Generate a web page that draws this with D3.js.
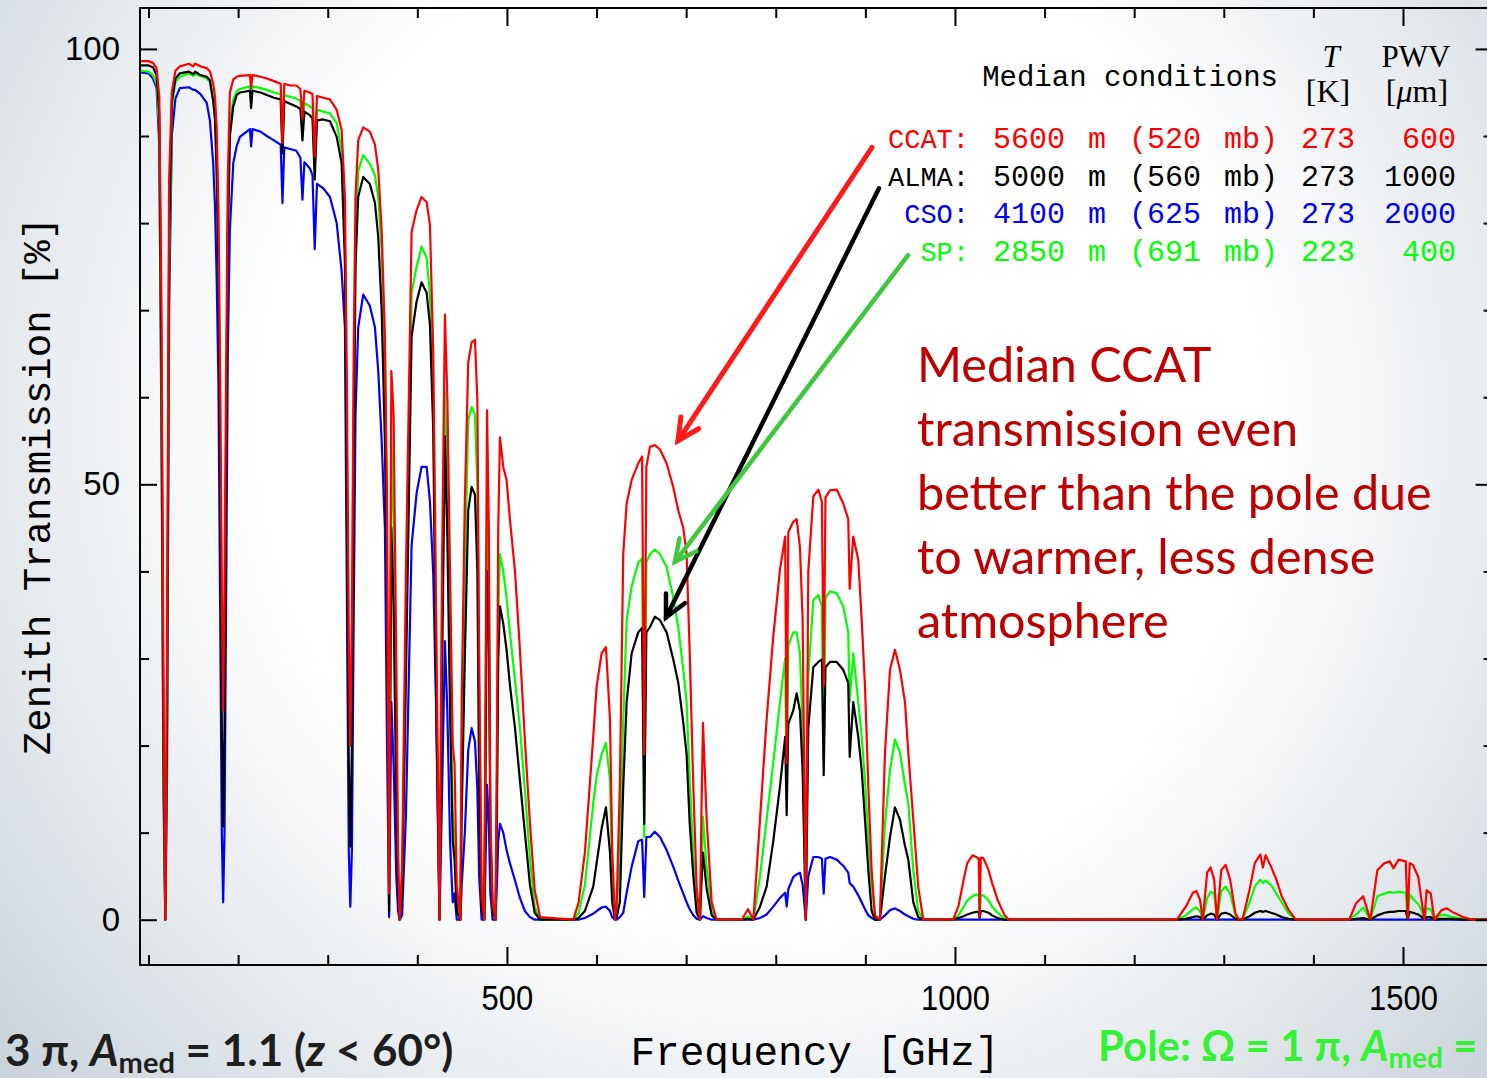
<!DOCTYPE html>
<html>
<head>
<meta charset="utf-8">
<script src="https://cdn.jsdelivr.net/npm/d3@7"></script>
<style>
  html, body { margin: 0; padding: 0; overflow: hidden; background: #fff; }
  svg { display: block; }
</style>
</head>
<body>
<svg id="chart" width="1487" height="1078"></svg>
<script>
// Frequency grid [GHz] shared by all four transmission spectra
const freq = [
  90.5,100,105,109,112,114.5,116.8,118.75,120.6,123,126,130,
  135,145,150,152,158,165,168.5,172.2,174.2,176,178,180,181.8,183.3,184.8,186.5,188.5,190.8,194.6,198.3,202,
  213.2,214.5,216,225,232,240,247.5,249.5,251.5,258,265,269.5,271.8,274,280,283,285.5,288,295,302.5,310,315.5,319.2,321.5,323.5,325.2,327,329,331,334,
  339.6,347,352.7,356.4,360.2,363.8,366,368.5,371,373.5,376.5,378.5,380.2,383,
  387.3,393.6,399.2,404.7,410.4,414.1,417.8,420.8,424.76,
  427.5,430.8,433.5,436.5,439.5,441.5,444,448,
  449.5,453,456.8,460.6,464.3,467,469,471.8,474.7,
  475.8,477.8,479.8,481.5,484,487.25,
  488.8,490.3,492.2,495.9,499.6,503.3,509,514.5,520,525.7,531,537,574,
  580,587,596.3,600.1,605.7,610.5,615,617.5,620.7,
  622.5,626,629.8,633.6,639.2,646.5,650.8,653.2,655.6,659.6,665,670.8,678.2,685.6,691.2,696.8,700.5,704,708,711.7,715.4,
  717,718.8,722.9,728.5,734,762,769,775,
  782.4,789.8,797.2,804.7,810.5,812.2,814,819.5,823.3,827,830,833.5,
  836.3,841.9,847.5,851.5,853.5,855.5,860.5,868,875.3,880.9,882.5,886.5,892.1,895.9,899.6,903.3,907,910.7,916.2,
  921.9,927.5,933,938.6,944.2,947.9,953.5,959,964.6,
  997.8,1003.8,1009.7,1013.7,1019.6,1023.7,1026.5,1027.6,1028.8,1031.6,1037.5,1041.5,1047.5,1055.4,1060,
  1247.7,1257.6,1265.5,1269.4,1273.4,1276.6,1281.4,1285.3,1289.3,1292.4,1297.2,1302,1307.1,1313,1317,
  1320.8,1328.7,1334.6,1340.8,1343.6,1346.7,1352.7,1358.7,1364.6,1372.5,1380.5,
  1440,1447.7,1455.6,1459,1463.5,1471.4,1479.4,1485.3,1489.3,1495.2,1503.1,1505.2,1507.5,1511.1,1517.1,1521.1,1523.9,1526.3,1531,1535,1543,1549,1554.9,1566.8,1578.7,1600
];

// Zenith transmission [%], CCAT site (5600 m, 600 um PWV)
const ccat = [
  98.6,98.6,98.4,97.8,94.5,70,25,0,30,85,95,97.5,
  98.0,98.3,98.0,98.3,98.0,97.8,97.4,96,94.5,91,82,62,38,24,38,62,85,95,96.5,96.8,96.9,
  97,95.5,97,96.8,96.6,96.3,96.0,89.2,96,95.8,95.8,95.4,92,95.2,95,94.8,87.6,94.6,94.4,94.2,93,90.7,83,60,32,20,35,65,83,89.5,
  91,90.5,89,86.1,79.2,67,50,3,63,58,30,8,0,6,
  40,79,81.5,83,82.4,79.8,65,37,0,
  40,69.5,60,40,20,18,4,0,
  25,48,64,66.3,66.6,59.7,30,3,0,
  20,58.5,45,12,2,0,
  20,45,55.4,52,50.5,46,40,31,20.7,11,3.4,0.3,0,
  2,7.7,21,26.8,30.6,31.3,23,8,0,
  2,15.3,42,47.8,50.5,52.4,53.2,19,52,54.3,54.5,54,52.4,49.7,47,45,42,30.6,15.3,3.8,0,
  12,22.6,11.5,2,0,0,1.2,0,
  11.5,23,32.5,40.2,44,18,44.5,45.7,46,42.8,34.4,0,
  40,48.6,49.4,48,26.8,48.5,49.3,49.4,47.8,46,38,44,41.3,34.4,26.8,15.3,5.7,0.5,0,
  19.2,28.7,31,28.7,25,19.2,11.5,3.8,0,
  0,1.5,4.6,6.5,7.4,7.2,7.0,0.3,7.1,7.1,5.7,4.2,2.3,0.5,0,
  0,1.5,3.1,3.3,2.3,0,5.4,6.0,4.6,0,5.7,6.3,4.6,0.7,0,
  0,3.4,6.5,7.5,6.0,7.4,6.1,4.6,2.7,1.1,0,
  0,1.9,2.7,1.5,0,5.7,6.5,6.7,5.9,6.9,6.7,0.2,6.5,6.3,4.9,1.9,0,3.4,3.0,0,1.1,1.3,0.9,0.3,0,0
];

// ALMA site (5000 m, 1000 um PWV)
const alma = [
  98.1,98.1,97.9,97.0,92.5,62,18,0,22,78,94,96.6,
  97.2,97.4,97.1,97.4,97.0,96.8,96.4,94,92,86,75,50,22,10.7,22,50,78,90,93.4,94.7,95,
  95.2,93.2,95.2,95,94.7,94.4,94.2,88,94,93.7,93.4,93.1,89.5,92.8,92.4,92,85,91.8,91.9,91.7,89.9,86.9,75.4,45,18,8.4,20,52,75,83,
  85.3,84.5,82.3,78.4,70,55,38,1,45,36,14,3,0,3,
  28,67,71,73.2,72,68.3,56,27,0,
  28,55.5,44,24,9,7,1,0,
  12,30,47,49.7,48.8,40,15,1,0,
  14,40,34,10,1,0,
  12,30,36,34,31,27,22,16,10,4,0.8,0,0,
  0.2,1,3.8,6.5,10.5,12.9,7.7,2,0,
  0.3,2,15.3,25,30.6,33,33.5,11,33,33.6,34.8,34.4,33,29.9,27.2,22.6,19,11,5,0.8,0,
  4,7.7,3.5,0.5,0,0,0.1,0,
  1.5,3.8,9,15.3,21,12,22.5,24,26,24,17,0,
  22,29,29.6,29.9,16.6,29,29.6,29.6,28.7,27.2,18.7,25,21,17.2,11.5,5.7,1,0,0,
  5,9.5,12.9,11.5,8.5,6.9,2,0.3,0,
  0,0.2,0.4,0.6,0.8,0.9,0.9,0.2,1.0,1.0,0.8,0.5,0.2,0,0,
  0,0.1,0.3,0.4,0.3,0,0.5,0.7,0.6,0,0.7,0.8,0.6,0.1,0,
  0,0.4,0.8,1.0,0.9,1.0,0.8,0.6,0.3,0.1,0,
  0,0.1,0.2,0.1,0,0.5,0.8,0.9,0.9,1.0,1.0,0.1,0.9,0.8,0.6,0.3,0,0.3,0.3,0,0.1,0.1,0.1,0,0,0
];

// CSO site (4100 m, 2000 um PWV)
const cso = [
  97.3,97.2,96.6,95.5,89,55,14,0,16,70,90,94.3,
  95.5,95.6,95.3,95.3,94.8,93.8,91.8,86.9,82,74,62,35,10,2,10,35,65,79.2,86.9,88.8,89.9,
  90.8,88.8,90.8,90.5,90,89.5,89,82.3,88.7,88.5,88.3,87.5,82.7,87,86.3,85.5,77,84.5,84,83,80,74.5,68,35,8,1.5,8,35,58,68,
  71.8,70.5,68,63,55,45,22,0.3,25,18,5,1,0,0.5,
  12,43,49,52,52,48,39.6,25,0,
  14,32,24,9,2,3,0,0,
  4,10,19.5,22,20.5,15,5,0,0,
  5,15.5,11,3,0,0,
  4,9,11,10,8,6.5,4.5,2.5,1,0.3,0,0,0,
  0,0.2,0.7,1.0,1.4,1.5,1.0,0.3,0,
  0,0.3,0.8,3.1,6.1,9,9.2,2.6,9.5,9.5,10.1,9.5,8,6.1,4.5,3,2,1.2,0.5,0.1,0,
  0.2,0.4,0.2,0,0,0,0,0,
  0.2,0.6,1.5,2.5,3.1,1.5,3.5,4.9,5.2,5.4,4,0,
  5,7.2,7.2,7.0,3,7,7.2,6.9,6.2,5.4,4.2,3.8,2.8,2,1.2,0.5,0.2,0,0,
  0.5,1.1,1.3,1.0,0.6,0.4,0.1,0,0,
  0,0,0,0,0,0,0,0,0,0,0,0,0,0,0,
  0,0,0,0,0,0,0,0,0,0,0,0,0,0,0,
  0,0,0,0,0,0,0,0,0,0,0,
  0,0,0,0,0,0,0,0,0,0,0,0,0,0,0,0,0,0,0,0,0,0,0,0,0,0
];

// South Pole (2850 m, 400 um PWV)
const sp = [
  97.5,97.4,97.0,96.0,91,58,16,0,20,75,93,96.2,
  96.8,97.2,96.9,97.1,96.9,96.6,96.2,94,92,87,77,55,33,27,33,55,80,91.5,94.2,95.1,95.4,
  95.7,94.5,95.7,95.5,95.3,95.0,94.8,88.5,94.7,94.5,94.3,94,91,93.8,93.4,93.2,86,93,92.8,92.6,91.5,88.4,79,52,28,22,30,60,78,86,
  87.8,86.8,85.5,83,77,65,45,2,55,46,20,5,0,4,
  33,72,75,77.3,76,71.8,60,31,0,
  33,60.6,50,28,12,9,2,0,
  18,40,57.4,58.9,58,50,25,2,0,
  16,48,40,10,1,0,
  15,35,42,40,37,33,27.5,22,15,7,1.5,0,0,
  0.8,4,13.4,16.5,19,20.3,16,5,0,
  0.8,7.7,23,34.4,38.3,41,41.5,9.5,41,42,42.5,42,40.5,37,33.6,28.7,25,16,7.5,1.5,0,
  6,11.8,6,1,0,0,0.4,0,
  5,11.5,18,25,30,14,31.5,33,33,30.6,22,0,
  28,36.7,37.3,36,18,37,37.7,37.5,36,33,25,30.6,25,21,16,9.5,4,0.5,0,
  11,17.2,20.7,19.2,15.5,13.4,5.7,1,0,
  0,0.5,1.5,2.2,2.7,2.9,2.8,0.3,2.8,2.8,2.2,1.5,0.8,0.1,0,
  0,0.5,1.2,1.4,1.0,0,2.5,3.2,3.0,0,3.3,3.8,3.0,0.5,0,
  0,2,3.8,4.6,4.2,4.5,4.0,3.0,2.0,0.7,0,
  0,0.6,1.4,0.8,0,2.7,3.0,3.2,3.1,3.2,3.1,0.2,2.9,2.4,1.8,1.0,0,1.3,1.2,0,0.6,0.5,0.3,0.1,0,0
];

// Axis ticks
const xMajorTicks = [500, 1000, 1500];
const xMinorTicks = [100, 200, 300, 400, 600, 700, 800, 900, 1100, 1200, 1300, 1400, 1600];
const yMajorTicks = [0, 50, 100];
const yMinorTicks = [10, 20, 30, 40, 60, 70, 80, 90];

// Legend table
const siteNames = ["CCAT:", "ALMA:", "CSO:", "SP:"];
const siteAltitudes = ["5600 m (520 mb)", "5000 m (560 mb)", "4100 m (625 mb)", "2850 m (691 mb)"];
const siteTemps = ["273", "273", "273", "223"];
const sitePWV = ["600", "1000", "2000", "400"];
const siteColors = ["#ff0000", "#000000", "#0000ff", "#00ff00"];

// Arrow annotations in data units: [startFreq, startPct, tipFreq, tipPct]
const arrowEnds = [
  [907.4, 88.7, 690.8, 55.0],
  [915.2, 84.0, 677.5, 34.7],
  [947.5, 76.3, 687.5, 41.1]
];
const arrowColors = ["#ff1a1a", "#000000", "#3ec83e"];

const noteLines = ["Median CCAT", "transmission even", "better than the pole due", "to warmer, less dense", "atmosphere"];

// ---------------------------------------------------------------
const W = 1487, H = 1078;
const frame = { left: 140, top: 8, right: 1492.6, bottom: 965 };
const svg = d3.select("#chart");
const defs = svg.append("defs");

// slide background: white centre fading to a cool grey at the edges
const bg = defs.append("radialGradient").attr("id", "bg")
  .attr("gradientUnits", "userSpaceOnUse")
  .attr("cx", 760).attr("cy", 420).attr("r", 1000);
bg.selectAll("stop")
  .data([[0, "#ffffff"], [0.5, "#ffffff"], [0.72, "#e9edf0"], [1, "#c9d3da"]])
  .join("stop").attr("offset", d => d[0]).attr("stop-color", d => d[1]);
svg.append("rect").attr("width", W).attr("height", H).attr("fill", "url(#bg)");

defs.append("clipPath").attr("id", "plotClip").append("rect")
  .attr("x", frame.left).attr("y", frame.top)
  .attr("width", frame.right - frame.left).attr("height", frame.bottom - frame.top);

const x = d3.scaleLinear().domain([90.5, 1600]).range([frame.left, frame.right]);
const y = d3.scaleLinear().domain([-5.2, 104.7]).range([frame.bottom, frame.top]);

// spectra
const series = [
  { key: "CSO", values: cso, color: "#0000ff" },
  { key: "SP", values: sp, color: "#00ff00" },
  { key: "ALMA", values: alma, color: "#000000" },
  { key: "CCAT", values: ccat, color: "#ff0000" }
];
const line = d3.line().x((d, i) => x(freq[i])).y(d => y(d));
svg.append("g").attr("clip-path", "url(#plotClip)")
  .selectAll("path").data(series).join("path")
  .attr("d", d => line(d.values))
  .attr("fill", "none")
  .attr("stroke", d => d.color)
  .attr("stroke-width", 2.2)
  .attr("stroke-linejoin", "round");

// axes with inward ticks on all four sides
function addAxis(axis, tx, ty) {
  const g = svg.append("g").attr("transform", `translate(${tx},${ty})`).call(axis);
  g.select(".domain").remove();
  g.selectAll(".tick line").attr("stroke", "#000").attr("stroke-width", 2);
  return g;
}
addAxis(d3.axisLeft(y).tickValues(yMinorTicks).tickSize(-9).tickFormat(""), frame.left, 0);
const yLab = addAxis(d3.axisLeft(y).tickValues(yMajorTicks).tickSize(-17).tickPadding(20).tickFormat(d3.format("d")), frame.left, 0);
yLab.attr("font-family", "'Liberation Sans', Arial, sans-serif").attr("font-size", 33);
yLab.selectAll("text").attr("fill", "#000");
addAxis(d3.axisRight(y).tickValues(yMinorTicks).tickSize(-9).tickFormat(""), frame.right, 0);
addAxis(d3.axisRight(y).tickValues(yMajorTicks).tickSize(-17).tickFormat(""), frame.right, 0);

addAxis(d3.axisBottom(x).tickValues(xMinorTicks).tickSize(-10).tickFormat(""), 0, frame.bottom);
const xLab = addAxis(d3.axisBottom(x).tickValues(xMajorTicks).tickSize(-18).tickPadding(19).tickFormat(d3.format("d")), 0, frame.bottom);
xLab.attr("font-family", "'Liberation Sans', Arial, sans-serif").attr("font-size", 36);
xLab.selectAll("text").attr("fill", "#000").attr("transform", "scale(0.86,1)");
addAxis(d3.axisTop(x).tickValues(xMinorTicks).tickSize(-10).tickFormat(""), 0, frame.top);
addAxis(d3.axisTop(x).tickValues(xMajorTicks).tickSize(-18).tickFormat(""), 0, frame.top);

svg.append("rect")
  .attr("x", frame.left).attr("y", frame.top)
  .attr("width", frame.right - frame.left).attr("height", frame.bottom - frame.top)
  .attr("fill", "none").attr("stroke", "#000").attr("stroke-width", 2);

// axis titles
const mono = "'Liberation Mono', 'DejaVu Sans Mono', monospace";
svg.append("text")
  .attr("x", 815).attr("y", 1065).attr("text-anchor", "middle")
  .attr("font-family", mono).attr("font-size", 41).attr("fill", "#000")
  .text("Frequency [GHz]");
svg.append("text")
  .attr("transform", "translate(50,486) rotate(-90)").attr("text-anchor", "middle")
  .attr("font-family", mono).attr("font-size", 39).attr("fill", "#000")
  .text("Zenith Transmission [%]");

// legend table
const serif = "'Liberation Serif', 'DejaVu Serif', serif";
svg.append("text").attr("x", 1278).attr("y", 86).attr("text-anchor", "end")
  .attr("font-family", mono).attr("font-size", 29).attr("fill", "#000")
  .text("Median conditions");
svg.append("text").attr("x", 1331).attr("y", 67).attr("text-anchor", "middle")
  .attr("font-family", serif).attr("font-style", "italic").attr("font-size", 31).text("T");
svg.append("text").attr("x", 1328).attr("y", 102).attr("text-anchor", "middle")
  .attr("font-family", serif).attr("font-size", 32).text("[K]");
svg.append("text").attr("x", 1416).attr("y", 67).attr("text-anchor", "middle")
  .attr("font-family", serif).attr("font-size", 31).text("PWV");
const um = svg.append("text").attr("x", 1417).attr("y", 102).attr("text-anchor", "middle")
  .attr("font-family", serif).attr("font-size", 32);
um.append("tspan").text("[");
um.append("tspan").attr("font-style", "italic").text("μ");
um.append("tspan").text("m]");

const rowY = [148, 186, 223, 261];
siteNames.forEach((name, i) => {
  const c = siteColors[i];
  svg.append("text").attr("x", 969).attr("y", rowY[i]).attr("text-anchor", "end")
    .attr("font-family", mono).attr("font-size", 27).attr("fill", c).text(name);
  svg.append("text").attr("x", 1278).attr("y", rowY[i]).attr("text-anchor", "end")
    .attr("font-family", mono).attr("font-size", 30).attr("word-spacing", 5).attr("fill", c)
    .text(siteAltitudes[i]);
  svg.append("text").attr("x", 1355).attr("y", rowY[i]).attr("text-anchor", "end")
    .attr("font-family", mono).attr("font-size", 30).attr("fill", c).text(siteTemps[i]);
  svg.append("text").attr("x", 1456).attr("y", rowY[i]).attr("text-anchor", "end")
    .attr("font-family", mono).attr("font-size", 30).attr("fill", c).text(sitePWV[i]);
});

// arrows pointing at the 650 GHz window
const gArrows = svg.append("g").attr("fill", "none").attr("stroke-linecap", "round");
arrowEnds.forEach((a, i) => {
  const x0 = x(a[0]), y0 = y(a[1]), x1 = x(a[2]), y1 = y(a[3]);
  const ang = Math.atan2(y0 - y1, x0 - x1);
  const len = 24, spread = 0.46;
  const w1 = [x1 + len * Math.cos(ang - spread), y1 + len * Math.sin(ang - spread)];
  const w2 = [x1 + len * Math.cos(ang + spread), y1 + len * Math.sin(ang + spread)];
  const g = gArrows.append("g").attr("stroke", arrowColors[i]).attr("stroke-width", i === 0 ? 5 : 4.5);
  g.append("line").attr("x1", x0).attr("y1", y0).attr("x2", x1).attr("y2", y1);
  g.append("path").attr("d", `M${w1[0]},${w1[1]}L${x1},${y1}L${w2[0]},${w2[1]}`)
    .attr("stroke-linejoin", "miter");
});

// red explanatory note
const note = svg.append("text").attr("font-family", "Lato, 'Open Sans', sans-serif")
  .attr("font-size", 48.5).attr("fill", "#c00000");
noteLines.forEach((t, i) => {
  note.append("tspan").attr("x", 917).attr("y", 382 + i * 64).text(t);
});

// footer captions
const cap = "Lato, 'Open Sans', sans-serif";
const left = svg.append("text").attr("x", 5).attr("y", 1066)
  .attr("font-family", cap).attr("font-weight", "bold").attr("font-size", 44).attr("fill", "#1e1e1e");
left.append("tspan").text("3 π, ");
left.append("tspan").attr("font-style", "italic").text("A");
left.append("tspan").attr("font-size", 29).attr("dy", 7).text("med");
left.append("tspan").attr("dy", -7).text(" = 1.1 (");
left.append("tspan").attr("font-style", "italic").text("z");
left.append("tspan").text(" < 60°)");

const right = svg.append("text").attr("x", 1098).attr("y", 1061)
  .attr("font-family", cap).attr("font-weight", "bold").attr("font-size", 42).attr("fill", "#33f233");
right.append("tspan").text("Pole: Ω = 1 π, ");
right.append("tspan").attr("font-style", "italic").text("A");
right.append("tspan").attr("font-size", 28).attr("dy", 7).text("med");
right.append("tspan").attr("dy", -7).text(" =");
</script>
</body>
</html>
